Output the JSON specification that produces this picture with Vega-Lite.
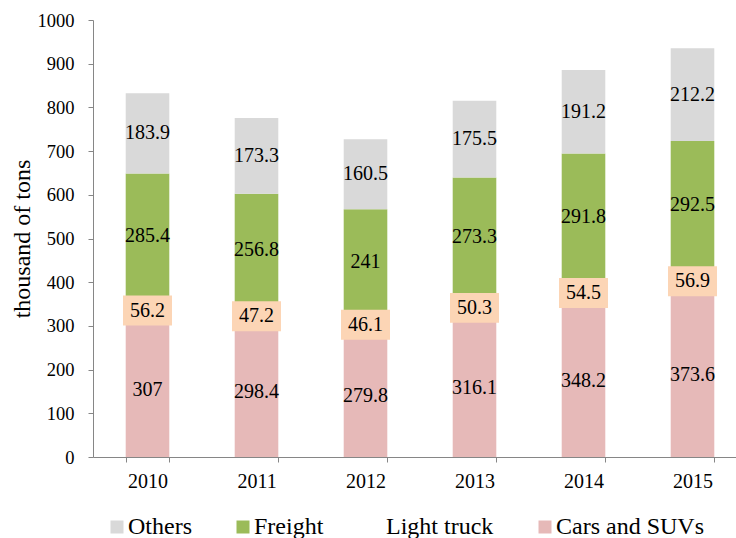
{
  "$schema": "https://vega.github.io/schema/vega-lite/v6.json",
  "autosize": {"type": "none"},
  "padding": {"left": 93, "top": 20, "right": 0, "bottom": 81},
  "width": 643,
  "height": 437,
  "background": "white",
  "config": {
    "view": {"stroke": null},
    "font": "Liberation Serif",
    "axis": {"labelFont": "Liberation Serif", "titleFont": "Liberation Serif", "labelColor": "black", "titleColor": "black", "domainColor": "#868686", "tickColor": "#868686", "grid": false},
    "legend": {"labelFont": "Liberation Serif"}
  },
  "data": {
    "values": [
      {"year": "2010", "type": "Cars and SUVs", "value": 307},
      {"year": "2010", "type": "Light truck", "value": 56.2},
      {"year": "2010", "type": "Freight", "value": 285.4},
      {"year": "2010", "type": "Others", "value": 183.9},
      {"year": "2011", "type": "Cars and SUVs", "value": 298.4},
      {"year": "2011", "type": "Light truck", "value": 47.2},
      {"year": "2011", "type": "Freight", "value": 256.8},
      {"year": "2011", "type": "Others", "value": 173.3},
      {"year": "2012", "type": "Cars and SUVs", "value": 279.8},
      {"year": "2012", "type": "Light truck", "value": 46.1},
      {"year": "2012", "type": "Freight", "value": 241},
      {"year": "2012", "type": "Others", "value": 160.5},
      {"year": "2013", "type": "Cars and SUVs", "value": 316.1},
      {"year": "2013", "type": "Light truck", "value": 50.3},
      {"year": "2013", "type": "Freight", "value": 273.3},
      {"year": "2013", "type": "Others", "value": 175.5},
      {"year": "2014", "type": "Cars and SUVs", "value": 348.2},
      {"year": "2014", "type": "Light truck", "value": 54.5},
      {"year": "2014", "type": "Freight", "value": 291.8},
      {"year": "2014", "type": "Others", "value": 191.2},
      {"year": "2015", "type": "Cars and SUVs", "value": 373.6},
      {"year": "2015", "type": "Light truck", "value": 56.9},
      {"year": "2015", "type": "Freight", "value": 292.5},
      {"year": "2015", "type": "Others", "value": 212.2}
    ]
  },
  "transform": [
    {"calculate": "indexof(['Cars and SUVs','Light truck','Freight','Others'], datum.type)", "as": "ord"},
    {"stack": "value", "groupby": ["year"], "sort": [{"field": "ord", "order": "ascending"}], "as": ["v0", "v1"]},
    {"calculate": "(datum.v0 + datum.v1) / 2", "as": "mid"}
  ],
  "encoding": {
    "x": {
      "field": "year", "type": "nominal",
      "scale": {"range": [0, 654], "paddingInner": 0.6, "paddingOuter": 0.3},
      "axis": {"title": null, "labelAngle": 0, "labelFontSize": 20, "tickBand": "extent", "tickSize": 5, "labelPadding": 9, "domainWidth": 1}
    }
  },
  "layer": [
    {
      "mark": {"type": "bar"},
      "encoding": {
        "y": {"field": "v0", "type": "quantitative", "scale": {"domain": [0, 1000], "nice": false},
          "axis": {"values": [0,100,200,300,400,500,600,700,800,900,1000], "format": "d", "title": "thousand of tons", "titleFontSize": 24, "titleFontWeight": "normal", "labelFontSize": 18.5, "tickSize": 5, "labelPadding": 14, "titlePadding": 3}},
        "y2": {"field": "v1"},
        "color": {
          "field": "type", "type": "nominal",
          "scale": {"domain": ["Others", "Freight", "Light truck", "Cars and SUVs"], "range": ["#D9D9D9", "#9BBB59", "#FFFFFF", "#E6B9B8"]},
          "legend": {
            "title": null, "orient": "none", "direction": "horizontal", "legendX": 12, "legendY": 495,
            "symbolType": "square", "symbolSize": 169, "symbolStrokeWidth": 0, "labelFontSize": 24, "labelColor": "black",
            "columnPadding": 39, "labelOffset": -1
          }
        }
      }
    },
    {
      "transform": [{"filter": "datum.type === 'Light truck'"}],
      "mark": {"type": "point", "shape": "M-1,-0.612H1V0.612H-1Z", "filled": true, "opacity": 1, "fill": "#FCD5B5", "strokeWidth": 0, "size": 2401},
      "encoding": {
        "y": {"field": "mid", "type": "quantitative"}
      }
    },
    {
      "mark": {"type": "text", "fontSize": 20, "color": "black", "font": "Liberation Serif"},
      "encoding": {
        "y": {"field": "mid", "type": "quantitative"},
        "text": {"field": "value", "type": "nominal"}
      }
    }
  ]
}
